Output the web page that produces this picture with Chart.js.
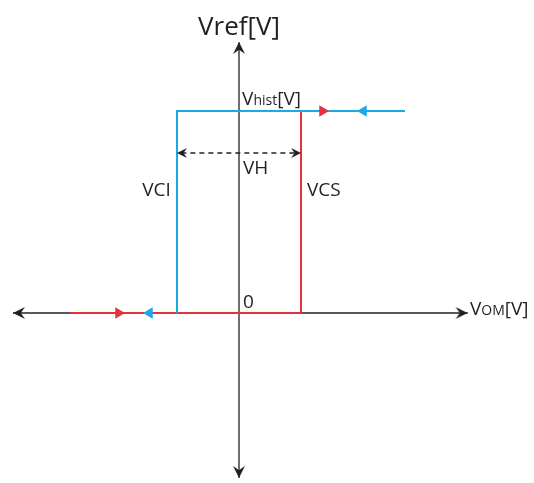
<!DOCTYPE html>
<html>
<head>
<meta charset="utf-8">
<script src="https://cdn.jsdelivr.net/npm/chart.js@4.4.1/dist/chart.umd.min.js"></script>
<style>
  html, body { margin: 0; padding: 0; background: #fff; }
  canvas { display: block; }
</style>
</head>
<body>
<canvas id="grafico" width="534" height="483"></canvas>
<script>
// Ciclo de histeresis: VCI = -1, VCS = 1, Vhist = 1 (unidades relativas)

// ejes (con las puntas de flecha)
const ejeHorizontalX = [-3.645, 3.69];
const ejeHorizontalY = [0, 0];
const ejeVerticalX = [0, 0];
const ejeVerticalY = [-0.817, 1.34];
const puntasEjeX = [-3.548, 3.59, 0, 0];
const puntasEjeY = [0, 0, 1.312, -0.787];
const puntasEjeRot = [-90, 90, 0, 180];

// curva roja (subida): se conmuta en VCS
const rojoX = [-2.726, 1, 1, 1.4];
const rojoY = [0, 0, 1, 1];
// curva azul (bajada): se conmuta en VCI
const azulX = [2.677, -1, -1];
const azulY = [1, 1, 0];

// flechas de direccion
const flechasRojasX = [-1.944, 1.347];
const flechasRojasY = [0, 1];
const flechasRojasRot = [90, 90];
const flechasAzulesX = [-1.444, 2.008];
const flechasAzulesY = [0, 1];
const flechasAzulesRot = [-90, -90];

// VH: flecha doble punteada
const vhX = [-0.93, 0.93];
const vhY = [0.792, 0.792];
const puntasVhX = [-0.92, 0.92];
const puntasVhY = [0.792, 0.792];
const puntasVhRot = [-90, 90];

// textos: segmentos [texto, pequeño?]
const etiquetas = [
  { partes: [['Vref[V]', false]], x: 0, y: 1.376, alin: 'center', grande: true },
  { partes: [['V', false], ['hist', true], ['[V]', false]], x: 0.05, y: 1.03, alin: 'left' },
  { partes: [['VH', false]], x: 0.065, y: 0.688, alin: 'left' },
  { partes: [['VCS', false]], x: 1.097, y: 0.579, alin: 'left' },
  { partes: [['VCI', false]], x: -1.1, y: 0.579, alin: 'right' },
  { partes: [['0', false]], x: 0.065, y: 0.025, alin: 'left' },
  { partes: [['V', false], ['OM', true], ['[V]', false]], x: 3.726, y: -0.01, alin: 'left' }
];

const negro = '#231f20';
const rojo = '#e3323b';
const azul = '#1ea9e4';
const fuente = '"Open Sans", sans-serif';

// punta de flecha con la base concava (apunta hacia arriba)
function puntaConcava(ancho, largo) {
  const c = document.createElement('canvas');
  c.width = ancho;
  c.height = largo * 2;
  const g = c.getContext('2d');
  g.fillStyle = negro;
  g.beginPath();
  g.moveTo(ancho / 2, largo - largo / 2);
  g.lineTo(ancho, largo + largo / 2);
  g.lineTo(ancho / 2, largo + largo * 0.15);
  g.lineTo(0, largo + largo / 2);
  g.closePath();
  g.fill();
  return c;
}
const puntaEje = puntaConcava(12, 12);
const puntaVh = puntaConcava(10, 10);

const pares = (xs, ys) => xs.map((v, i) => ({ x: v, y: ys[i] }));

const linea = (datos, color, ancho, orden, extra) => Object.assign({
  data: datos,
  showLine: true,
  borderColor: color,
  borderWidth: ancho,
  pointRadius: 0,
  fill: false,
  tension: 0,
  order: orden,
  clip: false
}, extra || {});

const puntas = (datos, color, estilo, radio, rot, orden) => ({
  data: datos,
  showLine: false,
  pointStyle: estilo,
  pointRadius: radio,
  pointRotation: rot,
  pointBackgroundColor: color,
  pointBorderColor: color,
  pointBorderWidth: 0,
  order: orden,
  clip: false
});

const pluginTextos = {
  id: 'textos',
  afterDatasetsDraw(chart) {
    const ctx = chart.ctx;
    const sx = chart.scales.x, sy = chart.scales.y;
    ctx.save();
    ctx.fillStyle = negro;
    ctx.textBaseline = 'alphabetic';
    ctx.textAlign = 'left';
    etiquetas.forEach(e => {
      const grande = e.grande ? 26 : 19;
      const fontDe = p => (p[1] ? 14 : grande) + 'px ' + fuente;
      let ancho = 0;
      e.partes.forEach(p => { ctx.font = fontDe(p); ancho += ctx.measureText(p[0]).width; });
      let px = sx.getPixelForValue(e.x);
      const py = sy.getPixelForValue(e.y);
      if (e.alin === 'center') px -= ancho / 2;
      if (e.alin === 'right') px -= ancho;
      e.partes.forEach(p => {
        ctx.font = fontDe(p);
        ctx.fillText(p[0], px, py);
        px += ctx.measureText(p[0]).width;
      });
    });
    ctx.restore();
  }
};

new Chart(document.getElementById('grafico').getContext('2d'), {
  type: 'scatter',
  data: {
    datasets: [
      linea(pares(ejeHorizontalX, ejeHorizontalY), negro, 1.3, 5),
      linea(pares(ejeVerticalX, ejeVerticalY), negro, 1.3, 5),
      linea(pares(rojoX, rojoY), rojo, 2, 3),
      linea(pares(azulX, azulY), azul, 2, 2),
      linea(pares(vhX, vhY), negro, 1.5, 1, { borderDash: [5, 4] }),
      puntas(pares(puntasEjeX, puntasEjeY), negro, puntaEje, 6, puntasEjeRot, 0),
      puntas(pares(flechasRojasX, flechasRojasY), rojo, 'triangle', 6.5, flechasRojasRot, 0),
      puntas(pares(flechasAzulesX, flechasAzulesY), azul, 'triangle', 6.5, flechasAzulesRot, 0),
      puntas(pares(puntasVhX, puntasVhY), negro, puntaVh, 5, puntasVhRot, 0)
    ]
  },
  options: {
    responsive: false,
    animation: false,
    events: [],
    layout: { padding: 0, autoPadding: false },
    plugins: { legend: { display: false }, tooltip: { enabled: false } },
    scales: {
      x: { type: 'linear', display: false, min: -3.855, max: 4.758 },
      y: { type: 'linear', display: false, min: -0.8416, max: 1.5495 }
    }
  },
  plugins: [pluginTextos]
});
</script>
</body>
</html>
